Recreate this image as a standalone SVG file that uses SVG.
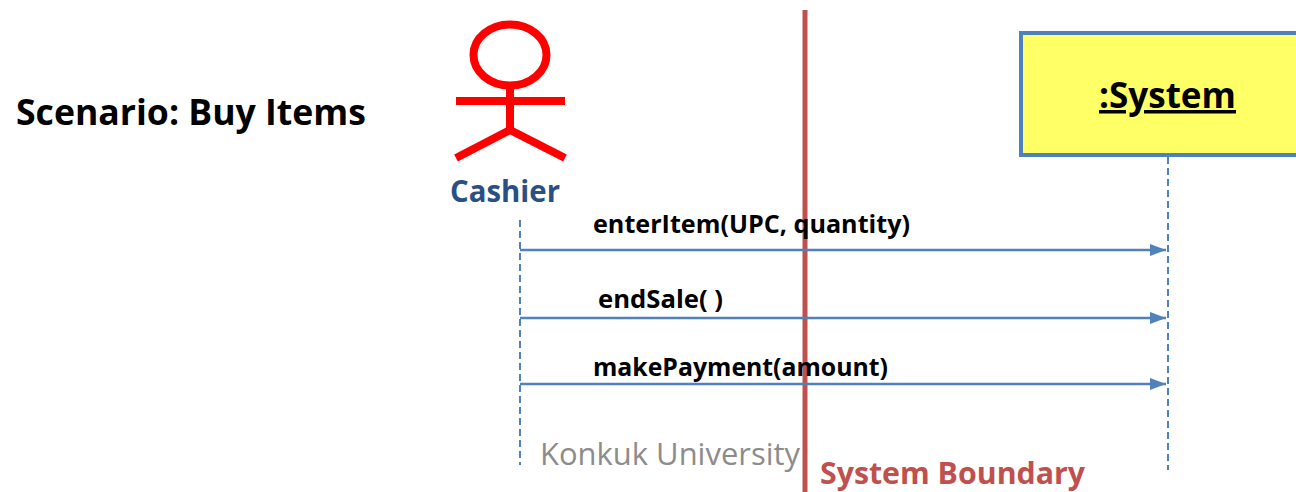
<svg xmlns="http://www.w3.org/2000/svg" width="1296" height="492" viewBox="0 0 1296 492">
<style>
text{font-family:"Open Sans","Noto Sans",sans-serif}
.msg{font-weight:bold;font-size:25px;fill:#000}
.life{stroke:#4F81BD;stroke-width:2;stroke-dasharray:7,4;fill:none}
.arrow{stroke:#4F81BD;stroke-width:2.5;fill:none;marker-end:url(#ah)}
.actor{stroke:#FF0000;stroke-width:8;fill:none}
</style>
<defs>
<marker id="ah" markerWidth="16" markerHeight="12" refX="16" refY="6" orient="auto" markerUnits="userSpaceOnUse">
<path d="M0,0 L16,6 L0,12 Z" fill="#4F81BD"/>
</marker>
</defs>
<rect width="1296" height="492" fill="#fff"/>
<text x="16" y="125" font-weight="bold" font-size="35.5" fill="#000" textLength="350" lengthAdjust="spacingAndGlyphs">Scenario: Buy Items</text>
<g id="cashier">
<ellipse class="actor" cx="510" cy="55" rx="36.5" ry="30.5" stroke-width="7"/>
<line class="actor" x1="510" y1="85" x2="510" y2="131"/>
<line class="actor" x1="456" y1="101" x2="565" y2="101"/>
<polyline class="actor" points="456,158 510,130 565,158"/>
<text x="450" y="202" font-weight="bold" font-size="30" fill="#2A5082" textLength="110" lengthAdjust="spacingAndGlyphs">Cashier</text>
<line class="life" x1="520" y1="220" x2="520" y2="465"/>
</g>
<g id="boundary">
<line x1="805" y1="10" x2="805" y2="492" stroke="#C0504D" stroke-width="5"/>
<text x="820" y="484" font-weight="bold" font-size="30.5" fill="#C0504D" textLength="265" lengthAdjust="spacingAndGlyphs">System Boundary</text>
</g>
<g id="system">
<rect x="1021" y="33" width="290" height="122" fill="#FFFF66" stroke="#4F81BD" stroke-width="4"/>
<text x="1099" y="108" font-weight="bold" font-size="35" fill="#000" text-decoration="underline" textLength="137" lengthAdjust="spacingAndGlyphs">:System</text>
<line class="life" x1="1168" y1="157" x2="1168" y2="470"/>
</g>
<g id="connectors">
<line class="arrow" x1="520" y1="250" x2="1166" y2="250"/>
<line class="arrow" x1="520" y1="318" x2="1166" y2="318"/>
<line class="arrow" x1="520" y1="384" x2="1166" y2="384"/>
<text class="msg" x="593" y="233" textLength="317" lengthAdjust="spacingAndGlyphs">enterItem(UPC, quantity)</text>
<text class="msg" x="598" y="308" textLength="125" lengthAdjust="spacingAndGlyphs">endSale( )</text>
<text class="msg" x="593" y="376" textLength="295" lengthAdjust="spacingAndGlyphs">makePayment(amount)</text>
</g>
<text x="540" y="465" font-size="31" fill="#8C8C8C" textLength="260" lengthAdjust="spacingAndGlyphs">Konkuk University</text>
</svg>
